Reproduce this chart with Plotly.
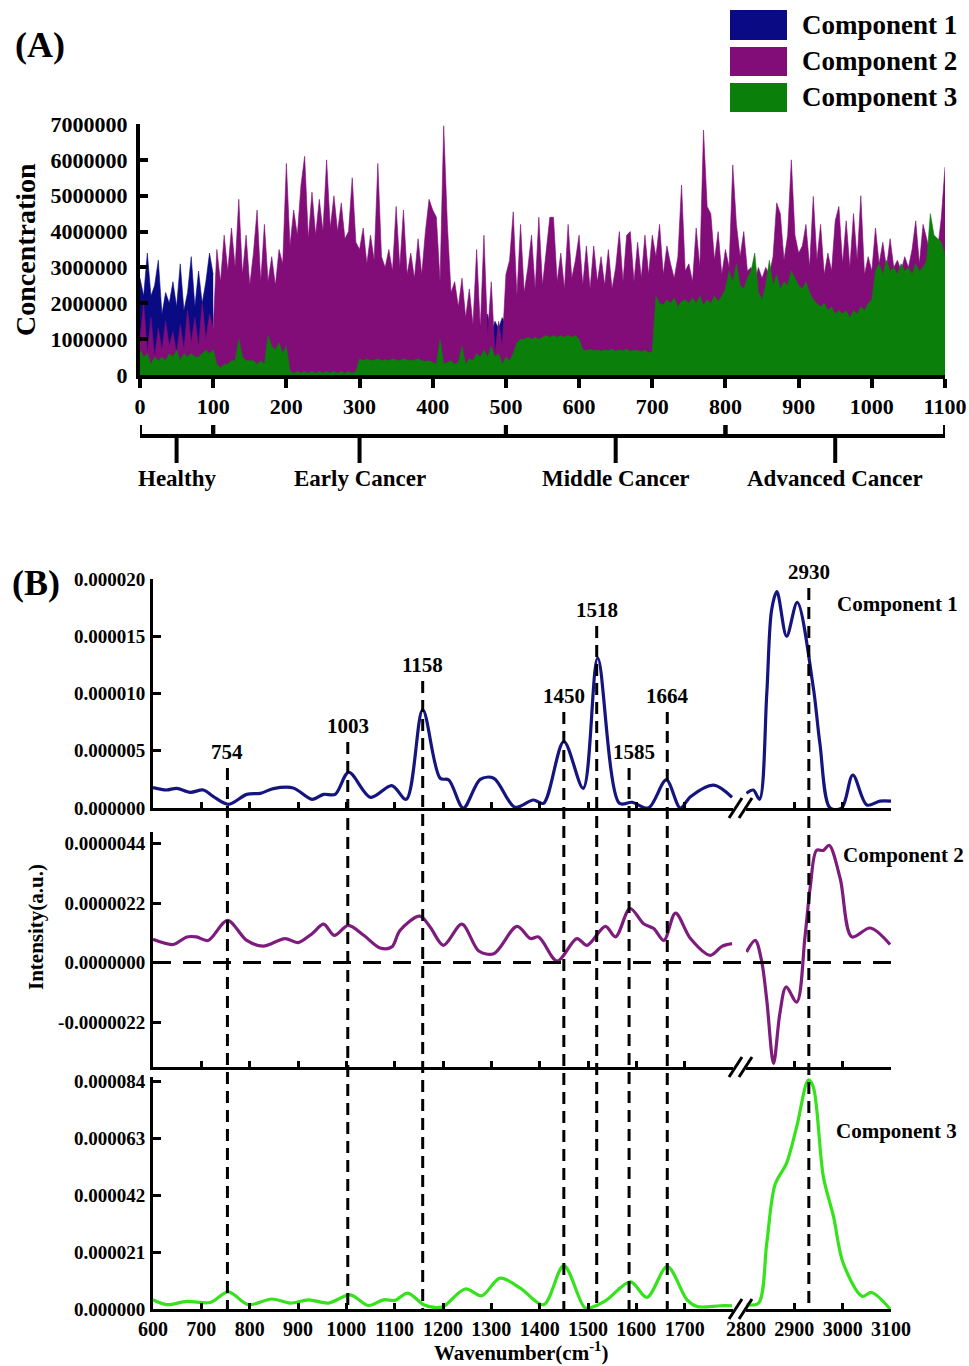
import plotly.graph_objects as go

W, H = 969, 1366
FONT = "Liberation Serif"


def px(x):
    return x / W


def py(y):
    return 1 - y / H


# ---------------- Panel A data (concentration, in millions) ----------------
sample_x = list(range(0, 1101, 5))
blue_x1 = list(range(0, 101, 5))
blue_x2 = list(range(460, 526, 5))

comp1_conc_a = [2.7, 2.2, 3.4, 2.2, 2.5, 3.2, 1.7, 2.3, 2.0, 2.6, 1.9, 3.1, 1.8, 2.3,
                3.3, 1.9, 2.9, 2.0, 2.6, 3.4, 2.8]
comp1_conc_b = [1.0, 1.4, 1.2, 1.7, 1.1, 1.5, 1.3, 1.6, 1.4, 1.5, 1.0, 1.3, 0.9, 0.6]

comp2_conc = [
    1.0, 2.0, 0.6, 1.6, 0.5, 1.3, 0.7, 1.5, 0.8, 1.2, 0.6, 1.4, 0.7, 1.8, 0.9, 1.6, 0.8, 2.0, 1.0, 1.7, 1.3,
    3.5, 2.6, 3.9, 2.9, 4.1, 3.0, 4.9, 2.8, 3.9, 2.5, 3.4, 4.6, 2.6, 4.2, 2.6, 3.3, 2.5, 3.5, 3.1, 5.9,
    3.6, 4.6, 3.9, 5.3, 6.1, 3.8, 5.1, 3.9, 4.9, 4.0, 6.0, 4.1, 5.0, 4.0, 4.8, 3.8, 4.0, 5.5, 3.7, 3.5,
    4.1, 3.1, 3.9, 3.2, 5.9, 3.3, 3.0, 3.5, 2.9, 4.7, 3.0, 4.6, 2.8, 3.4, 2.7, 3.8, 2.8, 4.0, 4.9, 4.6,
    4.4, 2.6, 6.95, 4.2, 2.3, 2.6, 1.9, 2.7, 1.6, 2.4, 1.4, 3.5, 1.3, 3.9, 1.1, 2.6, 0.6, 1.5, 0.8, 2.8,
    3.2, 4.55, 2.2, 4.2, 2.3, 3.0, 3.9, 2.4, 4.4, 2.5, 3.5, 4.4, 4.4, 2.6, 3.4, 2.4, 4.2, 2.7, 3.2, 3.9,
    2.5, 3.6, 2.4, 3.6, 2.6, 3.3, 2.5, 3.5, 2.4, 3.0, 4.0, 2.6, 3.9, 4.0, 2.6, 3.7, 2.7, 3.9, 2.8, 3.9,
    3.3, 4.2, 2.8, 3.6, 3.1, 2.7, 3.3, 5.3, 2.9, 3.1, 2.6, 4.1, 3.0, 6.83, 4.7, 4.5, 3.2, 4.0, 2.8, 3.5,
    3.0, 5.86, 4.2, 3.3, 4.0, 2.9, 3.0, 2.6, 3.0, 2.7, 3.0, 2.8, 3.3, 4.8, 4.5, 3.2, 3.9, 6.0, 3.9, 3.4,
    3.6, 4.2, 3.0, 4.98, 3.2, 4.2, 2.8, 3.4, 2.9, 4.3, 4.7, 3.1, 4.3, 3.0, 4.5, 3.2, 5.0, 2.8, 3.3, 2.9,
    4.1, 3.1, 3.7, 3.0, 3.8, 3.0, 3.2, 2.9, 3.3, 3.0, 3.5, 4.3, 3.1, 4.2, 3.8, 3.3, 3.6, 3.5, 4.4, 5.8,
]

comp3_conc = [
    0.7, 0.5, 0.6, 0.3, 0.5, 0.4, 0.5, 0.4, 0.6, 0.5, 0.7, 0.4, 0.6, 0.5, 0.6, 0.5, 0.5, 0.6, 0.7, 0.6, 0.7,
    0.3, 0.2, 0.3, 0.3, 0.4, 0.4, 1.0, 0.5, 0.4, 0.4, 0.4, 0.3, 0.4, 0.3, 1.1, 0.8, 0.7, 0.9, 0.6, 0.8,
    0.1, 0.05, 0.1, 0.05, 0.1, 0.05, 0.1, 0.05, 0.1, 0.05, 0.1, 0.05, 0.1, 0.05, 0.1, 0.05, 0.1, 0.05, 0.1, 0.45,
    0.4, 0.45, 0.4, 0.42, 0.45, 0.4, 0.43, 0.4, 0.45, 0.42, 0.4, 0.45, 0.43, 0.4, 0.42, 0.45, 0.4, 0.38, 0.4, 0.35,
    0.3, 1.0, 0.3, 0.35, 0.4, 0.3, 0.35, 0.8, 0.3, 0.45, 0.4, 0.6, 0.5, 0.7, 0.5, 0.8, 0.5, 0.6, 0.3, 0.5,
    0.4, 0.6, 0.9, 1.0, 1.0, 1.05, 1.0, 1.05, 1.0, 1.05, 1.1, 1.05, 1.1, 1.05, 1.1, 1.05, 1.1, 1.05, 1.1, 1.0,
    0.7, 0.68, 0.72, 0.68, 0.7, 0.66, 0.7, 0.68, 0.72, 0.66, 0.7, 0.68, 0.72, 0.66, 0.7, 0.68, 0.65, 0.7, 0.62, 0.65,
    2.2, 2.0, 1.95, 2.1, 2.0, 2.15, 1.9, 2.05, 2.1, 2.0, 2.15, 2.0, 2.2, 1.95, 2.1, 2.0, 2.2, 2.05, 2.2, 2.4,
    2.9, 2.6, 3.1, 2.5, 2.4, 2.7, 2.9, 3.4, 2.3, 2.1, 2.5, 3.2, 2.5, 2.8, 2.4, 2.6, 2.5, 2.9, 2.7, 2.5,
    2.4, 2.6, 2.3, 2.1, 2.0, 1.9, 2.0, 1.8, 1.9, 1.7, 1.8, 1.7, 1.8, 1.6, 1.8, 1.7, 1.9, 1.8, 2.0, 2.1,
    2.9, 3.1, 2.8, 3.2, 2.9, 3.0, 2.8, 3.1, 2.9, 3.0, 2.8, 3.1, 2.9, 3.0, 3.2, 4.5, 3.9, 3.8, 3.7, 3.3,
]

conc_ticks = [0, 1000000, 2000000, 3000000, 4000000, 5000000, 6000000, 7000000]
sample_ticks = list(range(0, 1101, 100))
groups = ["Healthy", "Early Cancer", "Middle Cancer", "Advanced Cancer"]
group_bounds = [0, 100, 500, 800, 1100]
legend_names = ["Component 1", "Component 2", "Component 3"]
colors_a = ["#0a0a84", "#820c78", "#0a7f0a"]

# ---------------- Panel B data (intensity, x1e-6) ----------------
c1_left_x = [600, 628, 649, 677, 704, 725, 756, 794, 822, 849, 890, 929, 953, 977, 1005, 1050, 1094,
             1124, 1158, 1194, 1212, 1242, 1277, 1305, 1349, 1387, 1408, 1450, 1490, 1520, 1565, 1591,
             1625, 1662, 1691, 1712, 1760, 1798]
c1_left_y = [1.78, 1.57, 1.72, 1.37, 1.57, 0.99, 0.32, 1.19, 1.28, 1.69, 1.75, 0.76, 1.19, 1.19, 3.12,
             0.93, 1.95, 0.76, 8.57, 2.6, 2.45, 0.0, 2.5, 2.6, 0.06, 0.7, 0.41, 5.8, 1.72, 13.1, 0.41,
             0.5, 0.0, 2.45, 0.0, 0.99, 2.0, 0.93]
c1_right_x = [2801, 2815, 2828, 2843, 2853, 2864, 2884, 2906, 2939, 2953, 2974, 2998, 3021, 3050, 3077, 3100]
c1_right_y = [1.28, 1.57, 0.76, 10.0, 17.3, 18.9, 15.0, 17.95, 10.6, 5.6, 0.0, 0.0, 2.88, 0.26, 0.6, 0.6]

c2_left_x = [600, 642, 670, 690, 714, 754, 794, 828, 873, 900, 929, 953, 975, 1004, 1036, 1070, 1094,
             1111, 1152, 1174, 1201, 1239, 1274, 1305, 1353, 1381, 1398, 1436, 1477, 1498, 1536, 1557,
             1587, 1615, 1636, 1657, 1681, 1712, 1753, 1777, 1798]
c2_left_y = [0.86, 0.67, 0.95, 0.95, 0.82, 1.56, 0.82, 0.61, 0.89, 0.74, 1.07, 1.42, 1.01, 1.38, 1.01,
             0.54, 0.58, 1.19, 1.72, 1.3, 0.64, 1.42, 0.43, 0.33, 1.34, 0.89, 0.95, 0.06, 0.89, 0.64,
             1.34, 0.95, 2.0, 1.44, 1.26, 0.82, 1.83, 0.89, 0.27, 0.6, 0.7]
c2_right_x = [2801, 2819, 2832, 2843, 2857, 2870, 2883, 2905, 2922, 2933, 2946, 2960, 2972, 2995, 3019, 3057, 3098]
c2_right_y = [0.39, 0.82, 0.09, -1.39, -3.73, -1.89, -0.9, -1.46, 0.95, 2.8, 4.15, 4.15, 4.34, 3.1, 0.95, 1.28, 0.67]

c3_left_x = [600, 628, 670, 718, 756, 797, 846, 884, 922, 963, 1008, 1046, 1077, 1101, 1127, 1160, 1187,
             1201, 1246, 1280, 1318, 1360, 1408, 1450, 1494, 1512, 1539, 1588, 1622, 1664, 1705, 1726,
             1774, 1798]
c3_left_y = [3.4, 1.6, 2.8, 2.4, 6.3, 1.6, 3.7, 2.2, 3.4, 2.2, 5.2, 1.3, 3.4, 3.2, 5.9, 1.6, 0.5, 0.9,
             7.4, 4.9, 11.4, 7.7, 1.6, 16.0, 0.4, 0.9, 3.4, 10.0, 4.3, 15.7, 3.4, 0.9, 1.2, 1.2]
c3_right_x = [2801, 2826, 2843, 2860, 2884, 2905, 2929, 2939, 2960, 2981, 3001, 3040, 3060, 3098]
c3_right_y = [1.6, 2.2, 24.4, 45.9, 53.9, 67.4, 84.6, 82.2, 48.9, 34.2, 17.0, 4.7, 6.1, 0.0]

peaks = [754, 1003, 1158, 1450, 1518, 1585, 1664, 2930]
peak_labels = ["754", "1003", "1158", "1450", "1518", "1585", "1664", "2930"]
peak_line_top = [768, 742, 681, 712, 626, 768, 712, 588]   # pixel y where each dashed line starts

c1_ticks = [0, 5e-6, 10e-6, 15e-6, 20e-6]
c1_ticktext = ["0.000000", "0.000005", "0.000010", "0.000015", "0.000020"]
c2_ticks = [-2.2e-6, 0, 2.2e-6, 4.4e-6]
c2_ticktext = ["-0.0000022", "0.0000000", "0.0000022", "0.0000044"]
c3_ticks = [0, 21e-6, 42e-6, 63e-6, 84e-6]
c3_ticktext = ["0.000000", "0.000021", "0.000042", "0.000063", "0.000084"]
wn_left_ticks = [600, 700, 800, 900, 1000, 1100, 1200, 1300, 1400, 1500, 1600, 1700]
wn_right_ticks = [2800, 2900, 3000, 3100]
colors_b = ["#15157f", "#7d1c7d", "#35e21c"]
comp_label_y = [604, 855, 1131]
comp_label_x = [897, 903, 896]

fig = go.Figure()

# ---------------- Panel A traces ----------------
M = 1e6
for xs, ys in [(blue_x1, comp1_conc_a), (blue_x2, comp1_conc_b)]:
    fig.add_trace(go.Scatter(x=xs, y=[v * M for v in ys], mode="lines", fill="tozeroy",
                             line=dict(color=colors_a[0], width=0.6), fillcolor=colors_a[0],
                             xaxis="x", yaxis="y", showlegend=False, hoverinfo="skip"))
fig.add_trace(go.Scatter(x=sample_x, y=[v * M for v in comp2_conc], mode="lines", fill="tozeroy",
                         line=dict(color=colors_a[1], width=0.6), fillcolor=colors_a[1],
                         xaxis="x", yaxis="y", showlegend=False))
fig.add_trace(go.Scatter(x=sample_x, y=[v * M for v in comp3_conc], mode="lines", fill="tozeroy",
                         line=dict(color=colors_a[2], width=0.6), fillcolor=colors_a[2],
                         xaxis="x", yaxis="y", showlegend=False))

# ---------------- Panel B traces ----------------
E = 1e-6
specs = [
    (c1_left_x, c1_left_y, "x2", "y2", colors_b[0]),
    (c1_right_x, c1_right_y, "x3", "y2", colors_b[0]),
    (c2_left_x, c2_left_y, "x4", "y3", colors_b[1]),
    (c2_right_x, c2_right_y, "x5", "y3", colors_b[1]),
    (c3_left_x, c3_left_y, "x6", "y4", colors_b[2]),
    (c3_right_x, c3_right_y, "x7", "y4", colors_b[2]),
]
for xs, ys, xa, ya, col in specs:
    fig.add_trace(go.Scatter(x=xs, y=[v * E for v in ys], mode="lines",
                             line=dict(color=col, width=3.2, shape="spline", smoothing=0.9),
                             xaxis=xa, yaxis=ya, showlegend=False))

bold = dict(family=FONT, color="black", weight="bold")


def tf(size):
    d = dict(bold)
    d["size"] = size
    return d


axis_common = dict(showgrid=False, zeroline=False, showline=True, linecolor="black", mirror=False,
                   automargin=False, tickcolor="black")

layout = dict(
    template="none",
    width=W, height=H, margin=dict(l=0, r=0, t=0, b=0, pad=0, autoexpand=False),
    paper_bgcolor="white", plot_bgcolor="rgba(0,0,0,0)",
    showlegend=False,
    xaxis=dict(domain=[px(140), px(945)], range=[0, 1100], anchor="y", tickvals=sample_ticks,
               ticks="outside", ticklen=9, tickwidth=4, linewidth=4, tickfont=tf(22),
               ticklabelstandoff=0, **axis_common),
    yaxis=dict(domain=[py(375), py(124)], range=[0, 7000000], anchor="x", tickvals=conc_ticks,
               tickformat="d", ticks="inside", ticklen=8, tickwidth=4, linewidth=4, tickfont=tf(22),
               ticklabelstandoff=4, **axis_common),
)

yb = {"y2": (808, 579, [0, 20e-6], c1_ticks, c1_ticktext),
      "y3": (1067, 832, [-3.86e-6, 4.83e-6], c2_ticks, c2_ticktext),
      "y4": (1309, 1077, [0, 85.7e-6], c3_ticks, c3_ticktext)}
pairs = [("y2", "x2", "x3"), ("y3", "x4", "x5"), ("y4", "x6", "x7")]
for ya, xl, xr in pairs:
    bot, top, rng, tv, tt = yb[ya]
    show = ya == "y4"
    layout["yaxis" + ya[1:]] = dict(domain=[py(bot), py(top)], range=rng, anchor=xl, tickvals=tv,
                                    ticktext=tt, ticks="inside", ticklen=8, tickwidth=3,
                                    linewidth=3, tickfont=tf(19), ticklabelstandoff=1, **axis_common)
    layout["xaxis" + xl[1:]] = dict(domain=[px(153), px(733)], range=[600, 1800], anchor=ya,
                                    tickvals=wn_left_ticks, ticks="inside", ticklen=6, tickwidth=3,
                                    linewidth=3, showticklabels=show, tickfont=tf(20),
                                    ticklabelstandoff=0, **axis_common)
    layout["xaxis" + xr[1:]] = dict(domain=[px(746), px(891)], range=[2800, 3100], anchor=ya,
                                    tickvals=wn_right_ticks, ticks="inside", ticklen=6, tickwidth=3,
                                    linewidth=3, showticklabels=show, tickfont=tf(20),
                                    ticklabelstandoff=0, **axis_common)

fig.update_layout(**layout)

shapes = []
annotations = []

# Legend (panel A)
legend_box_y = [(10, 40), (47, 76), (83, 112)]
for name, col, (y0, y1) in zip(legend_names, colors_a, legend_box_y):
    shapes.append(dict(type="rect", xref="paper", yref="paper", x0=px(730), x1=px(787),
                       y0=py(y1), y1=py(y0), fillcolor=col, line=dict(width=0)))
    annotations.append(dict(text=name, xref="paper", yref="paper", x=px(800), y=py((y0 + y1) / 2),
                            xanchor="left", yanchor="middle", showarrow=False, font=tf(27)))

# Brackets (panel A)
yl, yt, ys = py(436), py(425), py(463)
for g, a, b in zip(groups, group_bounds[:-1], group_bounds[1:]):
    m = (a + b) / 2
    shapes.append(dict(type="path", xref="x", yref="paper",
                       path=f"M {a},{yt} L {a},{yl} L {b},{yl} L {b},{yt} M {m},{yl} L {m},{ys}",
                       line=dict(color="black", width=4)))
    annotations.append(dict(text=g, xref="x", yref="paper", x=m, y=py(478), xanchor="center",
                            yanchor="middle", showarrow=False, font=tf(23)))

# Dashed peak lines
for pk, lab, top in zip(peaks, peak_labels, peak_line_top):
    xr = "x3" if pk > 2000 else "x2"
    shapes.append(dict(type="line", xref=xr, yref="paper", x0=pk, x1=pk, y0=py(top), y1=py(1309),
                       line=dict(color="black", width=3, dash="12px,7px")))
    annotations.append(dict(text=lab, xref=xr, yref="paper", x=pk, y=py(top - 2),
                            xanchor="center", yanchor="bottom", showarrow=False, font=tf(21),
                            xshift=5 if lab == "1585" else 0))

# zero line in component 2
shapes.append(dict(type="line", xref="paper", yref="y3", x0=px(153), x1=px(891), y0=0, y1=0,
                   line=dict(color="black", width=3, dash="18px,12px")))

# axis break marks
for yb_ in [808, 1067, 1309]:
    for dx in (0, 10):
        shapes.append(dict(type="line", xref="paper", yref="paper",
                           x0=px(729 + dx), x1=px(742 + dx), y0=py(yb_ + 10), y1=py(yb_ - 10),
                           line=dict(color="black", width=3)))

# component labels
for i, (cx, cy) in enumerate(zip(comp_label_x, comp_label_y)):
    annotations.append(dict(text=legend_names[i], xref="paper", yref="paper", x=px(cx), y=py(cy),
                            xanchor="center", yanchor="middle", showarrow=False, font=tf(21)))

# titles and panel letters
annotations += [
    dict(text="(A)", xref="paper", yref="paper", x=px(40), y=py(45), xanchor="center",
         yanchor="middle", showarrow=False, font=tf(36)),
    dict(text="(B)", xref="paper", yref="paper", x=px(36), y=py(583), xanchor="center",
         yanchor="middle", showarrow=False, font=tf(36)),
    dict(text="Concentration", xref="paper", yref="paper", x=px(25), y=py(250), xanchor="center",
         yanchor="middle", textangle=-90, showarrow=False, font=tf(28)),
    dict(text="Intensity(a.u.)", xref="paper", yref="paper", x=px(36), y=py(927), xanchor="center",
         yanchor="middle", textangle=-90, showarrow=False, font=tf(21)),
    dict(text="Wavenumber(cm<sup>-1</sup>)", xref="paper", yref="paper", x=px(521), y=py(1351),
         xanchor="center", yanchor="middle", showarrow=False, font=tf(21)),
]

fig.update_layout(shapes=shapes, annotations=annotations)
fig.write_html("out.html", config={"displayModeBar": False},
               post_script="document.body.style.margin='0';document.body.style.overflow='hidden';")
